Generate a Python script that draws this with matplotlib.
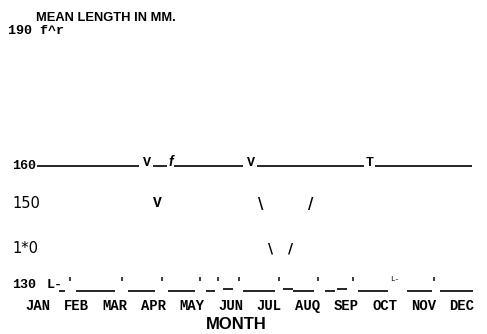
import matplotlib
matplotlib.use("Agg")
import matplotlib.pyplot as plt

# axis labels as they appear on the scanned chart
months = ['JAN', 'FEB', 'MAR', 'APR', 'MAY', 'JUN',
          'JUL', 'AUQ', 'SEP', 'OCT', 'NOV', 'DEC']
month_pos = list(range(1, 13))

# y tick labels (mm) and the value each one sits at
ytick_text = ['190 f^r', '160', '150', '1*0', '130']
ytick_vals = [193.9, 160.0, 150.6, 139.3, 130.0]
ytick_mono = [True, True, False, False, True]

# broken reference line at 160 mm (start, end in month units)
line160_start = [0.974, 3.98, 4.53, 6.68, 9.74]
line160_end = [3.62, 4.35, 6.32, 9.46, 12.26]
# glyphs sitting on the 160 line
glyph160_x = [3.83, 4.45, 6.53, 9.59]
glyph160_txt = ['V', 'f', 'V', 'T']

# stray marks in the 150 and 140 rows
glyph150_x = [4.09, 6.78, 8.08]
glyph150_txt = ['V', '\\', '/']
glyph140_x = [7.04, 7.54]
glyph140_txt = ['\\', '/']

# baseline row at 130 mm: underscore runs and dashes
base_start = [1.545, 1.986, 3.335, 4.372, 5.358, 6.318, 7.615, 8.445, 9.301, 10.572, 11.428]
base_end = [1.700, 2.997, 4.035, 5.073, 5.591, 7.148, 8.160, 8.704, 10.079, 11.220, 12.284]
dash_start = [5.799, 7.355, 8.756]
dash_end = [6.058, 7.615, 9.016]
tick_x = [1.830, 3.179, 4.217, 5.202, 5.669, 6.214, 7.252, 8.263, 9.171, 11.272]

MONO = 'Liberation Mono'
SANS = 'Liberation Sans'

fig = plt.figure(figsize=(4.87, 3.34), dpi=100)
ax = fig.add_axes([0, 0, 1, 1])
ax.set_xlim(0.0143, 12.647)
ax.set_ylim(117.68, 201.67)
ax.axis('off')

# title
ax.text(0.95, 197.2, 'MEAN LENGTH IN MM.', family=SANS, weight='bold',
        fontsize=9.3, ha='left', va='center')

# y labels
for txt, val, mono in zip(ytick_text, ytick_vals, ytick_mono):
    x0 = 0.222 if txt.startswith('190') else 0.326
    if mono:
        ax.text(x0, val, txt, family=MONO, weight='bold', fontsize=9.6,
                ha='left', va='center')
    else:
        ax.text(x0, val, txt, family='DejaVu Sans', fontsize=10.5,
                ha='left', va='center')

# 160 row
ax.hlines([160.0] * len(line160_start), line160_start, line160_end,
          color='black', linewidth=1.2)
for x, g in zip(glyph160_x, glyph160_txt):
    if g == 'f':
        ax.text(x, 160.0, g, family=SANS, style='italic', weight='bold',
                fontsize=10, ha='center', va='baseline')
    else:
        ax.text(x, 160.0, g, family=MONO, weight='bold', fontsize=9.6,
                ha='center', va='baseline')

# 150 row
for x, g in zip(glyph150_x, glyph150_txt):
    if g == 'V':
        ax.text(x, 150.5, g, family=MONO, weight='bold', fontsize=10.5,
                ha='center', va='center')
    else:
        ax.text(x, 150.2, g, family='DejaVu Sans', weight='bold',
                fontsize=10.5, ha='center', va='center')

# 140 row
for x, g in zip(glyph140_x, glyph140_txt):
    ax.text(x, 139.3, g, family='DejaVu Sans', weight='bold', fontsize=10,
            ha='center', va='center')

# 130 row
ax.text(1.233, 130.0, 'L-', family=MONO, weight='bold', fontsize=9.6,
        ha='left', va='center')
ax.hlines([128.5] * len(base_start), base_start, base_end,
          color='black', linewidth=1.2)
ax.hlines([129.0] * len(dash_start), dash_start, dash_end,
          color='black', linewidth=1.2)
for x in tick_x:
    ax.text(x, 130.4, "'", family=MONO, weight='bold', fontsize=9.6,
            ha='center', va='center')
ax.text(10.131, 131.3, 'L-', family=MONO, fontsize=5.5,
        ha='left', va='center')

# month labels
for m, name in zip(month_pos, months):
    ax.text(m, 124.6, name, family=MONO, weight='bold', fontsize=10,
            ha='center', va='center')

ax.text(6.14, 120.1, 'MONTH', family=SANS, weight='bold', fontsize=12,
        ha='center', va='center')

fig.savefig('out.png', dpi=100, facecolor='white')
